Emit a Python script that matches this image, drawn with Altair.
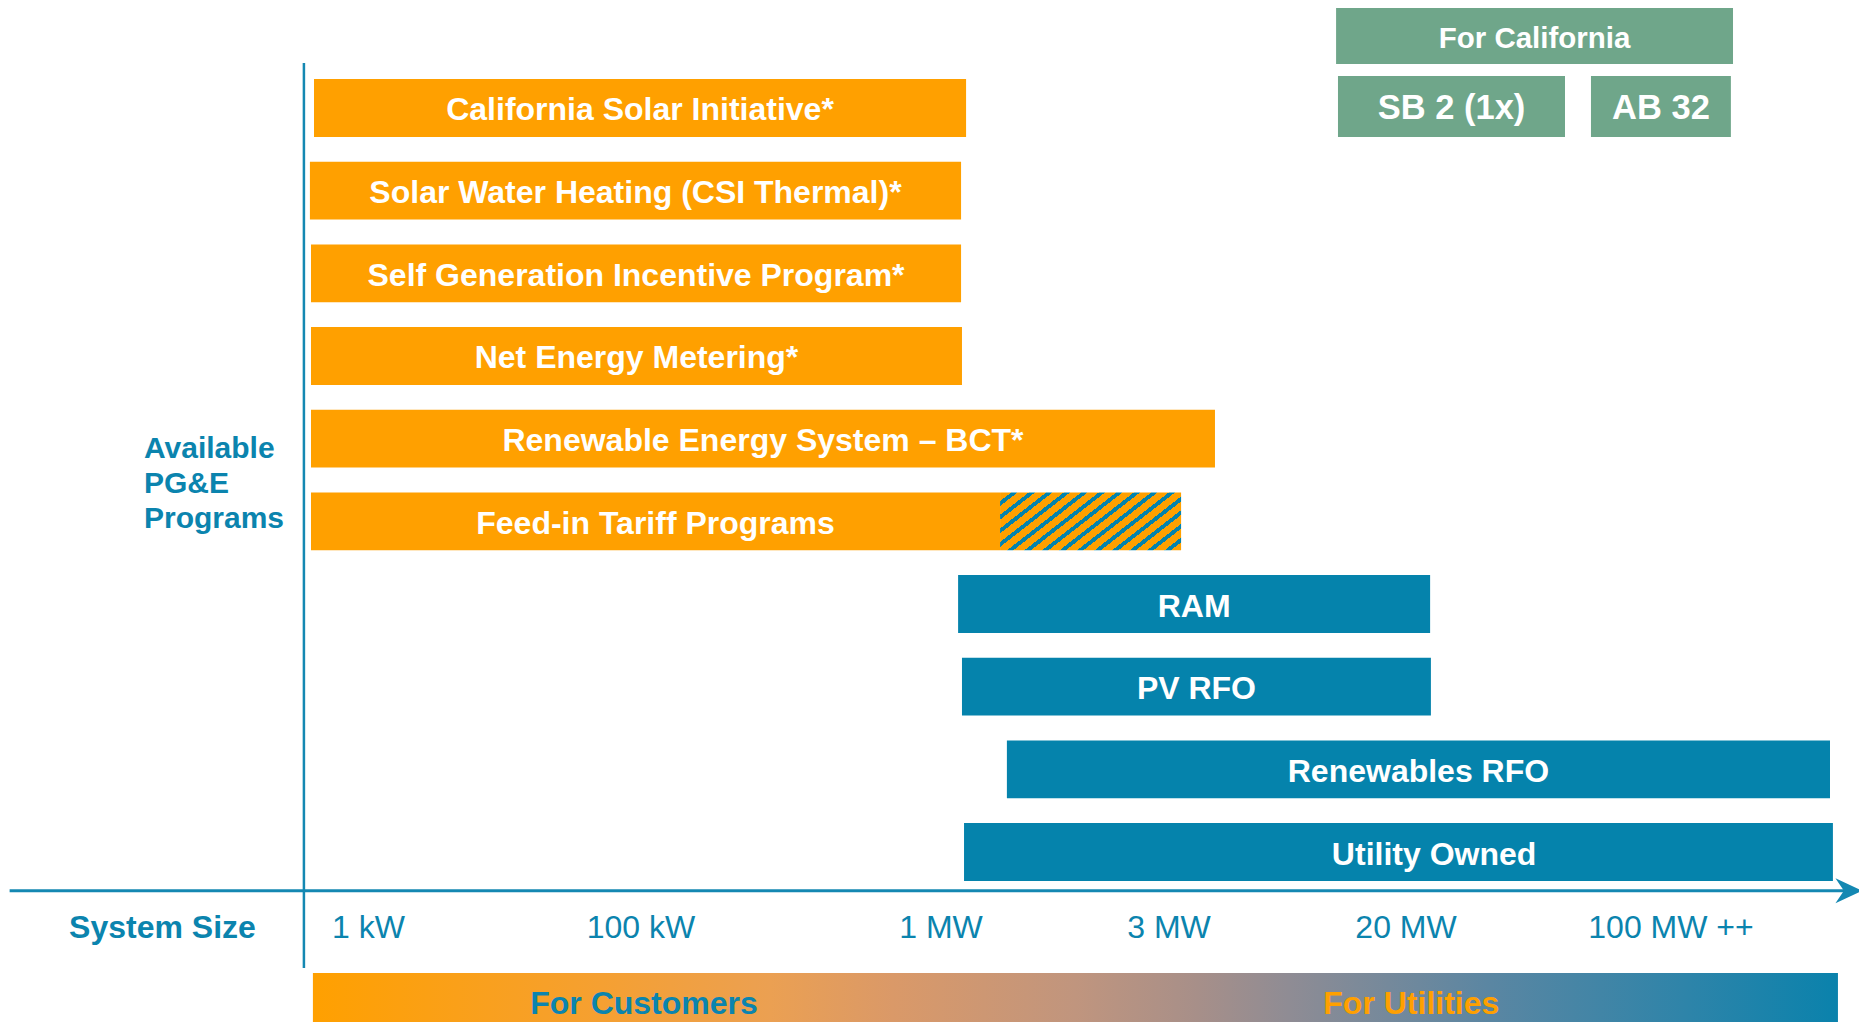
import altair as alt
import numpy as np
import pandas as pd

# ---------------- data ----------------
programs = [
    "California Solar Initiative*",
    "Solar Water Heating (CSI Thermal)*",
    "Self Generation Incentive Program*",
    "Net Energy Metering*",
    "Renewable Energy System – BCT*",
    "Feed-in Tariff Programs",
    "RAM",
    "PV RFO",
    "Renewables RFO",
    "Utility Owned",
]
program_group = ["customer"] * 6 + ["utility"] * 4
# system-size range of each program, in tick units
# (0 = 1 kW, 1 = 100 kW, 2 = 1 MW, 3 = 3 MW, 4 = 20 MW, 5 = 100 MW ++)
size_from = [-0.200, -0.215, -0.211, -0.211, -0.211, -0.211, 2.075, 2.092, 2.289, 2.101]
size_to = [2.110, 2.088, 2.088, 2.092, 3.194, 2.259, 4.091, 4.094, 5.600, 5.611]
size_partial_to = [None, None, None, None, None, 3.051, None, None, None, None]
# label anchor (tick units); None = centred on the solid part of the bar
label_at = [None, None, None, None, None, None, None, None, None, 4.106]

size_ticks = ["1 kW", "100 kW", "1 MW", "3 MW", "20 MW", "100 MW ++"]

state_labels = ["For California", "SB 2 (1x)", "AB 32"]
state_level = ["header", "law", "law"]
state_from = [3.705, 3.713, 4.698]
state_to = [5.234, 4.600, 5.226]
state_top = [-1.222, -0.387, -0.387]
state_bottom = [-0.532, 0.351, 0.351]

audience_labels = ["For Customers", "For Utilities"]
audience_at = [1.01, 4.02]
audience_group = ["customer", "utility"]

# ---------------- styles / layout ----------------
ORANGE = "#FFA000"
TEAL = "#0583AC"
GREEN = "#6FA68A"
LINE = "#1488B2"
TEXT_TEAL = "#0B84AE"
FONT = "Liberation Sans"

W, H = 1851, 1014
TICK_PX = [360.5, 633, 933, 1161, 1398, 1663]
TICK_UNITS = [0, 1, 2, 3, 4, 5]
x_scale = alt.Scale(domain=TICK_UNITS, range=TICK_PX, nice=False, zero=False, clamp=False)
y_scale = alt.Scale(domain=[-100 / 82.67, (H - 100) / 82.67], range=[0, H], nice=False, zero=False)


def to_px(u):
    i = int(np.clip(np.searchsorted(TICK_UNITS, u) - 1, 0, len(TICK_UNITS) - 2))
    return TICK_PX[i] + (u - TICK_UNITS[i]) * (TICK_PX[i + 1] - TICK_PX[i])


def to_units(p):
    i = int(np.clip(np.searchsorted(TICK_PX, p) - 1, 0, len(TICK_PX) - 2))
    return TICK_UNITS[i] + (p - TICK_PX[i]) / (TICK_PX[i + 1] - TICK_PX[i])


def visual_mid(a, b):
    return to_units((to_px(a) + to_px(b)) / 2)


# guide / annotation positions (tick units, row units)
AXIS_ROW = 9.468
AXIS_FROM, AXIS_TO = -1.317, 5.653
ARROW_AT = 5.671
VAXIS_AT, VAXIS_TOP, VAXIS_BOTTOM = -0.237, -0.544, 10.403
TICK_ROW = 9.917
SYSTEM_SIZE_AT = -0.756
PROGRAMS_LABEL_AT, PROGRAMS_LABEL_ROW = -0.824, 4.130
BAND_FROM, BAND_TO, BAND_TOP, BAND_BOTTOM = -0.204, 5.630, 10.463, 11.3
AUDIENCE_ROW = 10.842
HALF = 0.35
LABEL_SHIFT = 0.03
STATE_LABEL_ROW = {"header": -0.835, "law": 0.012}

prog_df = pd.DataFrame({
    "program": programs,
    "group": program_group,
    "row": list(range(len(programs))),
    "start": size_from,
    "end": size_to,
    "partial_end": size_partial_to,
    "mid": [la if la is not None else visual_mid(a, b)
            for a, b, la in zip(size_from, size_to, label_at)],
})
ticks_df = pd.DataFrame({"label": size_ticks, "pos": TICK_UNITS})
state_df = pd.DataFrame({
    "label": state_labels, "level": state_level,
    "start": state_from, "end": state_to, "top": state_top, "bottom": state_bottom,
    "mid": [visual_mid(a, b) for a, b in zip(state_from, state_to)],
    "label_row": [STATE_LABEL_ROW[lv] for lv in state_level],
})
aud_df = pd.DataFrame({"label": audience_labels, "pos": audience_at, "group": audience_group})

color_scale = alt.Scale(domain=["customer", "utility"], range=[ORANGE, TEAL])

base = alt.Chart(prog_df).transform_calculate(
    top=f"datum.row - {HALF}", bottom=f"datum.row + {HALF}", label_row=f"datum.row + {LABEL_SHIFT}"
)

bars = base.mark_rect().encode(
    x=alt.X("start:Q", scale=x_scale, axis=None),
    x2="end:Q",
    y=alt.Y("top:Q", scale=y_scale, axis=None),
    y2="bottom:Q",
    color=alt.Color("group:N", scale=color_scale, legend=None),
)

# diagonal hatch (orange / teal stripes) via hard-stop gradient
hatch_w, hatch_h, angle_tan = 181.0, 58.0, 0.781
ratio = angle_tan * hatch_w / hatch_h
gb = (1 + ratio) / (ratio * ratio + 1)
ga = ratio * gb
period = (ga / (ga + gb)) * 17.5 / hatch_w
teal_frac = 0.36
stops = [alt.GradientStop(color=ORANGE, offset=0)]
k = 0
while k * period < 1:
    t0 = min(1.0, k * period + period * (1 - teal_frac))
    t1 = min(1.0, (k + 1) * period)
    stops += [alt.GradientStop(color=ORANGE, offset=t0), alt.GradientStop(color=TEAL, offset=t0),
              alt.GradientStop(color=TEAL, offset=t1), alt.GradientStop(color=ORANGE, offset=t1)]
    k += 1
hatch_fill = alt.LinearGradient(gradient="linear", stops=stops, x1=0, y1=0, x2=ga, y2=gb)

hatch = base.transform_filter("isValid(datum.partial_end)").mark_rect(fill=hatch_fill).encode(
    x=alt.X("end:Q", scale=x_scale, axis=None),
    x2="partial_end:Q",
    y=alt.Y("top:Q", scale=y_scale, axis=None),
    y2="bottom:Q",
)

bar_labels = base.mark_text(
    align="center", baseline="middle", font=FONT, fontSize=32, fontWeight="bold", color="white"
).encode(
    x=alt.X("mid:Q", scale=x_scale, axis=None),
    y=alt.Y("label_row:Q", scale=y_scale, axis=None),
    text="program:N",
)

state_base = alt.Chart(state_df)
state_boxes = state_base.mark_rect(color=GREEN).encode(
    x=alt.X("start:Q", scale=x_scale, axis=None), x2="end:Q",
    y=alt.Y("top:Q", scale=y_scale, axis=None), y2="bottom:Q",
)
state_head = state_base.transform_filter("datum.level == 'header'").mark_text(
    align="center", baseline="middle", font=FONT, fontSize=29.5, fontWeight="bold", color="white"
).encode(x=alt.X("mid:Q", scale=x_scale, axis=None), y=alt.Y("label_row:Q", scale=y_scale, axis=None), text="label:N")
state_law = state_base.transform_filter("datum.level == 'law'").mark_text(
    align="center", baseline="middle", font=FONT, fontSize=34.5, fontWeight="bold", color="white"
).encode(x=alt.X("mid:Q", scale=x_scale, axis=None), y=alt.Y("label_row:Q", scale=y_scale, axis=None), text="label:N")

guide_df = pd.DataFrame({"a": [0]})
haxis = alt.Chart(guide_df).mark_rule(color=LINE, strokeWidth=3).encode(
    x=alt.XDatum(AXIS_FROM, scale=x_scale, axis=None),
    x2=alt.X2Datum(AXIS_TO),
    y=alt.YDatum(AXIS_ROW, scale=y_scale, axis=None),
)
vaxis = alt.Chart(guide_df).mark_rule(color=LINE, strokeWidth=2.5).encode(
    x=alt.XDatum(VAXIS_AT, scale=x_scale, axis=None),
    y=alt.YDatum(VAXIS_TOP, scale=y_scale, axis=None),
    y2=alt.Y2Datum(VAXIS_BOTTOM),
)
arrow = alt.Chart(guide_df).mark_point(
    shape="M-1,-0.94L1,0L-1,0.94L-0.37,0Z", size=713, filled=True, color=LINE, opacity=1, strokeWidth=0
).encode(
    x=alt.XDatum(ARROW_AT, scale=x_scale, axis=None),
    y=alt.YDatum(AXIS_ROW, scale=y_scale, axis=None),
)

tick_labels = alt.Chart(ticks_df).mark_text(
    align="center", baseline="middle", font=FONT, fontSize=32, color=TEXT_TEAL
).encode(
    x=alt.X("pos:Q", scale=x_scale, axis=None),
    y=alt.YDatum(TICK_ROW, scale=y_scale, axis=None),
    text="label:N",
)

system_size = alt.Chart(guide_df).mark_text(
    align="center", baseline="middle", font=FONT, fontSize=32, fontWeight="bold", color=TEXT_TEAL,
    text="System Size",
).encode(
    x=alt.XDatum(SYSTEM_SIZE_AT, scale=x_scale, axis=None),
    y=alt.YDatum(TICK_ROW, scale=y_scale, axis=None),
)

programs_label = alt.Chart(guide_df).mark_text(
    align="left", baseline="middle", font=FONT, fontSize=30, fontWeight="bold", color=TEXT_TEAL,
    text="Available\nPG&E\nPrograms", lineBreak="\n", lineHeight=35,
).encode(
    x=alt.XDatum(PROGRAMS_LABEL_AT, scale=x_scale, axis=None),
    y=alt.YDatum(PROGRAMS_LABEL_ROW, scale=y_scale, axis=None),
)

band_stops = [
    (0.00, "#FFA000"), (0.19, "#F5A032"), (0.30, "#EBA052"), (0.38, "#DA9968"),
    (0.50, "#C0957E"), (0.58, "#A78F89"), (0.64, "#8F8C94"), (0.77, "#5B86A2"),
    (0.90, "#2E84A9"), (1.00, "#0A82AC"),
]
band_fill = alt.LinearGradient(
    gradient="linear",
    stops=[alt.GradientStop(color=c, offset=o) for o, c in band_stops],
    x1=0, y1=0, x2=1, y2=0,
)
band = alt.Chart(guide_df).mark_rect(fill=band_fill).encode(
    x=alt.XDatum(BAND_FROM, scale=x_scale, axis=None),
    x2=alt.X2Datum(BAND_TO),
    y=alt.YDatum(BAND_TOP, scale=y_scale, axis=None),
    y2=alt.Y2Datum(BAND_BOTTOM),
)

aud_text = alt.Chart(aud_df).mark_text(
    align="center", baseline="middle", font=FONT, fontSize=32, fontWeight="bold"
).encode(
    x=alt.X("pos:Q", scale=x_scale, axis=None),
    y=alt.YDatum(AUDIENCE_ROW, scale=y_scale, axis=None),
    text="label:N",
    color=alt.Color("group:N", scale=alt.Scale(domain=["customer", "utility"], range=[TEXT_TEAL, ORANGE]), legend=None),
)

chart = alt.layer(
    band, bars, hatch, bar_labels, state_boxes, state_head, state_law,
    haxis, vaxis, arrow, tick_labels, system_size, programs_label, aud_text,
).resolve_scale(color="independent").properties(
    width=W, height=H, padding=0, autosize="none", background="white"
).configure_view(stroke=None)

chart.save("out.html", embed_options={"renderer": "svg", "actions": False})
